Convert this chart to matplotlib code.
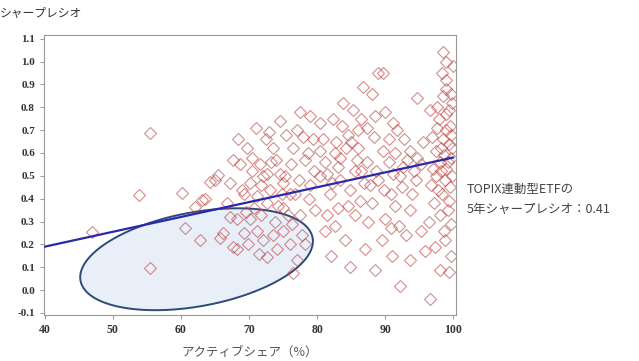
import numpy as np
import matplotlib.pyplot as plt

plt.rcParams['font.family'] = ['Noto Sans CJK JP', 'DejaVu Sans']

# --- datos ---
# fondos con baja actividad
x_left = [46.9, 53.9, 55.5, 55.4, 60.1, 60.6, 62.1, 62.8, 63.1, 63.6, 64.3, 65.5, 65.0, 65.8]
y_left = [0.255, 0.416, 0.687, 0.096, 0.424, 0.27, 0.365, 0.22, 0.394, 0.40, 0.474, 0.503, 0.48, 0.23]

# 66-80 %
x_mid = [67.2, 67.7, 68.7, 71.6, 72.7, 74.6, 75.0, 76.0, 70.2, 69.2, 71.2, 72.7, 75.0, 67.2, 68.2,
         70.2, 71.2, 69.2, 66.2, 67.7, 68.2, 72.1, 74.1, 72.7, 75.0, 76.0, 77.1, 76.5,
         68.4, 69.7, 71.0, 74.6, 77.5, 69.0, 72.0, 73.1, 74.3, 75.3, 76.7, 78.2, 78.9, 77.5, 79.7,
         76.3, 78.2, 78.0, 79.4, 79.0, 78.6, 73.5, 72.5, 70.5, 74.0, 76.5, 73.8, 70.8, 66.8, 69.8, 71.5,
         70.5, 71.8, 73.2, 74.8, 76.2, 77.3, 78.8, 75.8, 73.5, 77.8, 79.5, 73.0, 75.5, 77.0, 71.8, 69.5]
y_mid = [0.47, 0.57, 0.55, 0.55, 0.51, 0.51, 0.47, 0.42, 0.47, 0.42, 0.41, 0.38, 0.36, 0.32, 0.31,
         0.31, 0.26, 0.25, 0.25, 0.19, 0.18, 0.22, 0.18, 0.145, 0.26, 0.20, 0.13, 0.075,
         0.66, 0.62, 0.71, 0.74, 0.78, 0.44, 0.50, 0.44, 0.37, 0.50, 0.42, 0.57, 0.46, 0.33, 0.35,
         0.29, 0.20, 0.67, 0.66, 0.76, 0.60, 0.62, 0.66, 0.58, 0.57, 0.62, 0.30, 0.36, 0.38, 0.20, 0.16,
         0.52, 0.46, 0.56, 0.42, 0.55, 0.48, 0.40, 0.33, 0.24, 0.24, 0.52, 0.69, 0.68, 0.70, 0.33, 0.34]

# 80-96 %
x_right = [80.5, 80.9, 80.5, 81.5, 82.4, 82.7, 83.4, 83.0, 83.7, 83.8, 85.3, 86.8, 88.1, 89.0, 89.7,
           87.4, 88.3, 87.4, 86.4, 89.7, 91.2, 91.8, 92.6, 91.2, 93.7, 94.7, 95.5, 94.7,
           81.1, 82.6, 84.1, 84.8, 87.0, 88.5, 92.2, 93.7, 95.9, 95.2, 90.0, 91.5, 93.7, 86.3,
           87.8, 84.8, 81.9, 80.5, 83.4, 85.6,
           85.0, 86.0, 84.5, 90.5, 89.0, 92.5, 94.0, 90.8, 88.0, 85.5, 83.0, 92.0, 94.5, 86.5,
           90.0, 92.8, 81.5, 82.0, 89.5, 91.0,
           81.2, 82.2, 84.2, 85.8, 86.9, 88.7, 89.9, 91.5, 92.2, 93.2, 94.2, 95.3, 84.5, 87.5,
           90.8, 93.0, 82.8, 88.5, 90.5, 86.0]
y_right = [0.73, 0.66, 0.61, 0.51, 0.75, 0.60, 0.58, 0.54, 0.72, 0.82, 0.79, 0.89, 0.86, 0.95, 0.95,
           0.71, 0.67, 0.56, 0.52, 0.61, 0.73, 0.70, 0.54, 0.51, 0.61, 0.58, 0.65, 0.84,
           0.26, 0.28, 0.22, 0.10, 0.18, 0.09, 0.02, 0.13, 0.17, 0.26, 0.31, 0.37, 0.35, 0.39,
           0.46, 0.44, 0.42, 0.50, 0.48, 0.52,
           0.65, 0.62, 0.68, 0.56, 0.48, 0.45, 0.42, 0.42, 0.38, 0.33, 0.36, 0.28, 0.48, 0.75,
           0.78, 0.66, 0.33, 0.15, 0.22, 0.15,
           0.56, 0.47, 0.62, 0.57, 0.47, 0.52, 0.44, 0.60, 0.50, 0.57, 0.52, 0.55, 0.37, 0.30,
           0.27, 0.24, 0.65, 0.76, 0.66, 0.70]

# 96-100 %
x_edge = [96.6, 98.0, 98.8, 97.6, 96.6, 96.9, 97.6, 99.0, 99.4, 99.3, 98.5, 98.0, 99.0, 97.0,
          98.5, 99.0, 98.4, 99.0, 99.0, 98.5, 99.8, 98.8, 97.8, 99.3, 98.1, 99.6, 98.6, 97.4,
          96.7, 99.5, 99.6, 98.2, 99.7, 99.5, 97.2, 99.2, 99.7, 98.3, 99.8, 99.9, 96.5,
          97.5, 98.9, 99.2, 97.9, 99.6, 98.7, 97.3, 99.4, 98.2, 99.8]
y_edge = [-0.04, 0.09, 0.22, 0.80, 0.79, 0.67, 0.71, 0.77, 0.79, 0.64, 0.66, 0.56, 0.53, 0.53,
          1.04, 1.00, 0.95, 0.92, 0.88, 0.85, 0.82, 0.48, 0.44, 0.39, 0.33, 0.29, 0.59, 0.50,
          0.46, 0.72, 0.68, 0.62, 0.58, 0.45, 0.38, 0.35, 0.15, 0.42, 0.50, 0.98, 0.30,
          0.61, 0.70, 0.56, 0.75, 0.86, 0.26, 0.19, 0.08, 0.52, 0.62]

# recta de regresión (extremos)
linea_x = [40, 100]
linea_y = [0.19, 0.58]

# elipse: centro (datos), semiejes y ángulo en píxeles de pantalla
elipse_centro = (62.3, 0.135)
elipse_a, elipse_b, elipse_ang = 118, 47, 10.5

x_ticks = [40, 50, 60, 70, 80, 90, 100]
y_ticks = [-0.1, 0.0, 0.1, 0.2, 0.3, 0.4, 0.5, 0.6, 0.7, 0.8, 0.9, 1.0, 1.1]

sx = np.array(x_left + x_mid + x_right + x_edge)
sy = np.array(y_left + y_mid + y_right + y_edge)

fig = plt.figure(figsize=(6.39, 3.61), dpi=100)
ax = fig.add_axes([0.0689, 0.1274, 0.6447, 0.7756])
ax.set_xlim(39.9, 100.4)
ax.set_ylim(-0.109, 1.116)

# elipse (convertida de píxeles a datos)
px_x = 408.5 / 60
px_y = 274.4 / 1.2
t = np.linspace(0, 2 * np.pi, 200)
th = np.radians(elipse_ang)
ex = elipse_centro[0] + (elipse_a * np.cos(th) * np.cos(t) - elipse_b * np.sin(th) * np.sin(t)) / px_x
ey = elipse_centro[1] + (elipse_a * np.sin(th) * np.cos(t) + elipse_b * np.cos(th) * np.sin(t)) / px_y
ax.fill(ex, ey, facecolor='#e9eff9', edgecolor='#2e4a78', linewidth=1.4, zorder=1)

ax.plot(sx, sy, linestyle='none', marker='D', markersize=6.5, markerfacecolor='none',
        markeredgecolor='#b8433e', markeredgewidth=0.8, alpha=0.6, zorder=2)

ax.plot(linea_x, linea_y, color='#2a2aa8', linewidth=1.6, zorder=3)

ax.set_xticks(x_ticks)
ax.set_yticks(y_ticks)
ax.set_xticklabels([str(v) for v in x_ticks], family='Liberation Serif', weight='bold', fontsize=8.5, color='#333333')
ax.set_yticklabels([f'{v:.1f}' for v in y_ticks], family='Liberation Serif', weight='bold', fontsize=8, color='#333333')
ax.tick_params(length=3, width=0.6, color='#888888')
for s in ax.spines.values():
    s.set_color('#999999')
    s.set_linewidth(0.8)

fig.text(0.0, 0.962, 'シャープレシオ', fontsize=8.5, color='#333333', va='center', ha='left')
ax.set_xlabel('アクティブシェア（%）', fontsize=9, color='#555555', labelpad=7)
fig.text(0.731, 0.4765, 'TOPIX連動型ETFの', fontsize=9, color='#444444', va='center', ha='left')
fig.text(0.731, 0.421, '5年シャープレシオ：0.41', fontsize=9, color='#444444', va='center', ha='left')

fig.savefig('out.png', dpi=100)
